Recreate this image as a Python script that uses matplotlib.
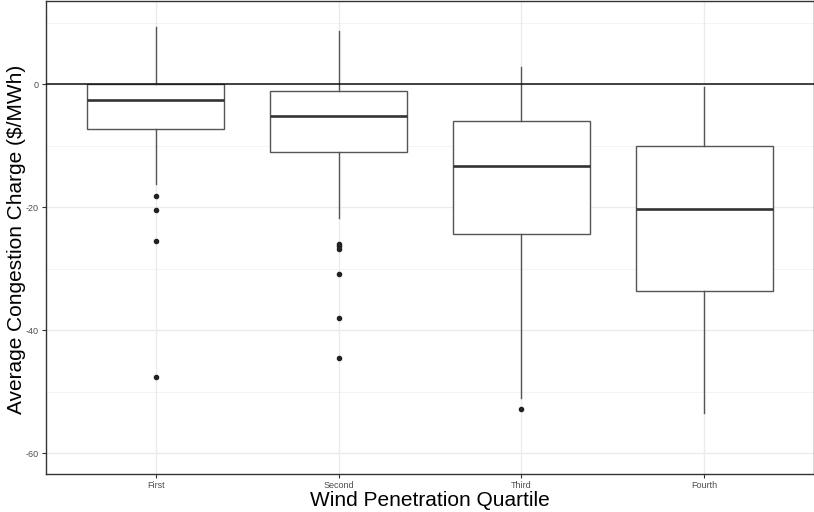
import matplotlib
matplotlib.use("Agg")
import matplotlib.pyplot as plt

plt.rcParams["font.family"] = ["Liberation Sans", "DejaVu Sans"]

quartiles = ["First", "Second", "Third", "Fourth"]
whisker_hi = [9.3, 8.7, 2.8, -0.5]
q3 = [0.0, -1.2, -6.0, -10.0]
medians = [-2.6, -5.2, -13.3, -20.3]
q1 = [-7.3, -11.1, -24.4, -33.7]
whisker_lo = [-16.3, -21.7, -51.1, -53.4]
outliers = [
    [-18.2, -20.5, -25.5, -47.6],
    [-26.0, -26.3, -26.8, -30.9, -38.0, -44.6],
    [-52.8],
    [],
]
y_ticks = [0, -20, -40, -60]
y_minor = [10, -10, -30, -50]

stats = []
for i, name in enumerate(quartiles):
    stats.append({
        "label": name,
        "med": medians[i],
        "q1": q1[i],
        "q3": q3[i],
        "whislo": whisker_lo[i],
        "whishi": whisker_hi[i],
        "fliers": outliers[i],
    })

fig = plt.figure(figsize=(8.14, 5.12), dpi=100)
ax = fig.add_axes([0.0565, 0.0742, 0.9435, 0.9238])

positions = list(range(1, len(quartiles) + 1))

# grid like theme_bw
for y in y_minor:
    ax.axhline(y, color="#f2f2f2", lw=0.6, zorder=0)
for y in y_ticks:
    ax.axhline(y, color="#ebebeb", lw=1.0, zorder=0)
for x in positions:
    ax.axvline(x, color="#ebebeb", lw=1.0, zorder=0)

ax.bxp(
    stats,
    positions=positions,
    widths=0.75,
    showcaps=False,
    patch_artist=True,
    boxprops=dict(facecolor="white", edgecolor="#555555", linewidth=1.0),
    whiskerprops=dict(color="#555555", linewidth=1.0),
    medianprops=dict(color="#333333", linewidth=1.9),
    flierprops=dict(marker="o", markerfacecolor="#222222", markeredgecolor="#222222",
                    markersize=3.0, linestyle="none"),
    zorder=2,
)

ax.axhline(0, color="#111111", lw=1.1, zorder=3)

ax.set_xlim(0.4, 4.6)
ax.set_ylim(-63.4, 13.5)
ax.set_xticks(positions)
ax.set_xticklabels(quartiles)
ax.set_yticks(y_ticks)
ax.set_yticklabels([str(v) for v in y_ticks])
ax.tick_params(axis="both", labelsize=6.5, labelcolor="#4d4d4d", color="#333333",
               length=3, width=0.8, pad=2)

for side in ax.spines.values():
    side.set_color("#333333")
    side.set_linewidth(1.0)

ax.set_xlabel("Wind Penetration Quartile", fontsize=15, labelpad=0.5)
ax.set_ylabel("Average Congestion Charge ($/MWh)", fontsize=15)
ax.yaxis.set_label_coords(-0.0255, 0.497)

fig.savefig("out.png", dpi=100)
